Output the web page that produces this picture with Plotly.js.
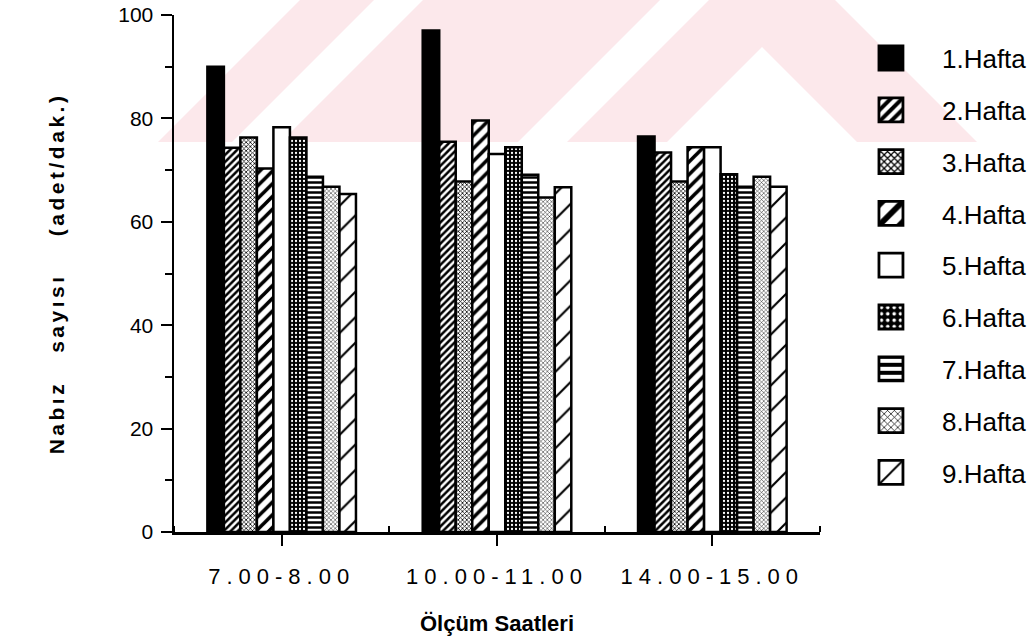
<!DOCTYPE html>
<html>
<head>
<meta charset="utf-8">
<script src="https://cdn.plot.ly/plotly-3.0.1.min.js"></script>
<style>
  html, body { margin: 0; padding: 0; background: #ffffff; }
  #wrap { position: relative; width: 1033px; height: 641px; overflow: hidden; }
  #wm { position: absolute; left: 0; top: 0; }
  #chart { position: absolute; left: 0; top: 0; width: 1033px; height: 641px; }
  #chart .xtick text { letter-spacing: 6px; }
  #chart .ytitle { letter-spacing: 3.5px; }
  #chart g.legendpoints path {
    transform-box: fill-box;
    transform-origin: center;
    translate: -51px 0px;
    scale: 2;
    stroke-width: 1.4px !important;
  }
</style>
</head>
<body>
<div id="wrap">
  <svg id="wm" width="1033" height="641">
    <polygon points="300,0 374,0 232,142 158,142" fill="#fce8eb"/>
    <polygon points="423,0 660,0 518,142 281,142" fill="#fce8eb"/>
    <polygon points="709,0 835,0 977,142 857,142 762,47 667,142 567,142" fill="#fce8eb"/>
  </svg>
  <div id="chart"></div>
</div>
<script>
// Categories (measurement hours)
const categories = ["7.00-8.00", "10.00-11.00", "14.00-15.00"];
// Series names
const seriesNames = ["1.Hafta", "2.Hafta", "3.Hafta", "4.Hafta", "5.Hafta", "6.Hafta", "7.Hafta", "8.Hafta", "9.Hafta"];
// Values per week (pulse count, per minute) for each category
const hafta1 = [90.0, 97.0, 76.5];
const hafta2 = [74.3, 75.5, 73.4];
const hafta3 = [76.3, 67.8, 67.8];
const hafta4 = [70.3, 79.6, 74.4];
const hafta5 = [78.3, 73.1, 74.4];
const hafta6 = [76.3, 74.4, 69.2];
const hafta7 = [68.7, 69.1, 66.8];
const hafta8 = [66.8, 64.7, 68.7];
const hafta9 = [65.4, 66.7, 66.8];
// y-axis tick values
const yTickVals = [0, 20, 40, 60, 80, 100];

const seriesValues = [hafta1, hafta2, hafta3, hafta4, hafta5, hafta6, hafta7, hafta8, hafta9];

const patterns = [
  {shape: "", fgcolor: "#000", bgcolor: "#000", solid: true},
  {shape: "/", fgcolor: "#000", bgcolor: "#fff", size: 5, solidity: 0.5},
  {shape: "x", fgcolor: "#000", bgcolor: "#fff", size: 3, solidity: 0.45},
  {shape: "/", fgcolor: "#000", bgcolor: "#fff", size: 9, solidity: 0.4},
  {shape: "", fgcolor: "#fff", bgcolor: "#fff", solid: true},
  {shape: ".", fgcolor: "#fff", bgcolor: "#000", size: 4, solidity: 0.25},
  {shape: "-", fgcolor: "#000", bgcolor: "#fff", size: 5, solidity: 0.5},
  {shape: "x", fgcolor: "#000", bgcolor: "#fff", size: 3, solidity: 0.28},
  {shape: "/", fgcolor: "#000", bgcolor: "#fff", size: 18, solidity: 0.12}
];

const xIdx = categories.map((c, i) => i);

const traces = seriesNames.map((name, k) => {
  const p = patterns[k];
  const marker = {
    color: p.bgcolor,
    line: {color: "#000", width: 2.5}
  };
  if (!p.solid) {
    marker.pattern = {shape: p.shape, fgcolor: p.fgcolor, bgcolor: p.bgcolor,
                      size: p.size, solidity: p.solidity, fillmode: "replace"};
  }
  return {
    type: "bar",
    name: name,
    x: xIdx,
    y: seriesValues[k],
    marker: marker,
    legendgroup: "g" + k,
    hoverinfo: "skip"
  };
});

const fontFam = "'Liberation Sans', Arial, Helvetica, sans-serif";

const layout = {
  width: 1033,
  height: 641,
  paper_bgcolor: "rgba(0,0,0,0)",
  plot_bgcolor: "rgba(0,0,0,0)",
  margin: {l: 174, r: 213, t: 15, b: 109, autoexpand: false},
  barmode: "group",
  bargap: 0.31,
  bargroupgap: 0,
  font: {family: fontFam, color: "#000"},
  showlegend: true,
  legend: {
    xref: "container", yref: "container",
    x: 0.817, y: 0.946, xanchor: "left", yanchor: "top",
    font: {size: 26, family: fontFam, color: "#000"},
    tracegroupgap: 15,
    itemwidth: 88,
    maxheight: 620,
    traceorder: "grouped",
    bgcolor: "rgba(0,0,0,0)"
  },
  xaxis: {
    range: [-0.5, 2.5],
    tickmode: "array",
    tickvals: xIdx,
    ticktext: categories,
    ticks: "outside",
    ticklen: 11,
    tickwidth: 2,
    tickcolor: "#000",
    ticklabelstandoff: 12,
    showline: true,
    linecolor: "#000",
    linewidth: 2.5,
    showgrid: false,
    zeroline: false,
    tickfont: {size: 22, family: fontFam, color: "#000"},
    minor: {tickvals: [-0.5, 0.5, 1.5, 2.5], ticks: "inside", ticklen: 6, tickwidth: 2, tickcolor: "#000"},
    title: {text: "<b>Ölçüm Saatleri</b>", font: {size: 22, family: fontFam, color: "#000"}, standoff: 28}
  },
  yaxis: {
    range: [0, 100],
    tickmode: "array",
    tickvals: yTickVals,
    ticks: "outside",
    ticklen: 11,
    tickwidth: 2,
    tickcolor: "#000",
    ticklabelstandoff: 3,
    showline: true,
    linecolor: "#000",
    linewidth: 2.5,
    showgrid: false,
    zeroline: false,
    tickfont: {size: 21, family: fontFam, color: "#000"},
    minor: {dtick: 10, tick0: 0, ticks: "outside", ticklen: 7, tickwidth: 2, tickcolor: "#000"},
    title: {text: "<b>Nabız\u00a0\u00a0 sayısı\u00a0\u00a0\u00a0 (adet/dak.)</b>", font: {size: 21, family: fontFam, color: "#000"}, standoff: 48}
  }
};

Plotly.newPlot("chart", traces, layout, {staticPlot: true, displayModeBar: false});
</script>
</body>
</html>
